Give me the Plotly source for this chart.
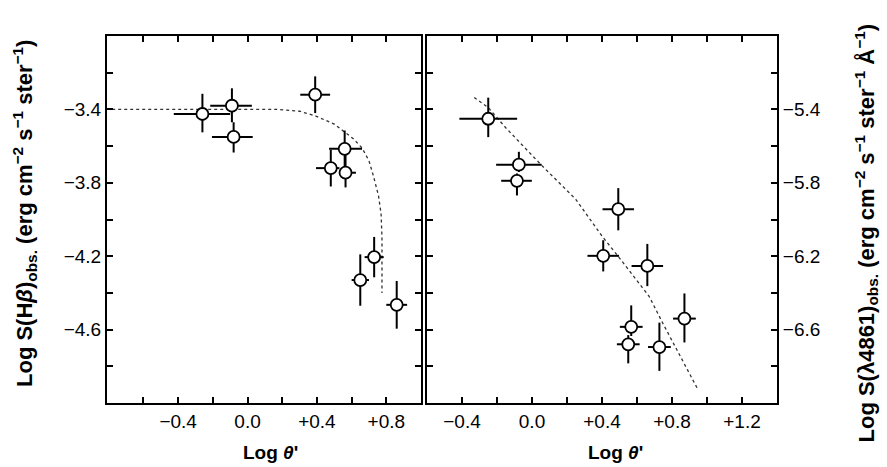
import plotly.graph_objects as go

# ---------------- data: left panel, Log S(Hbeta) vs Log theta' ----------------
hb_x = [-0.26, -0.09, -0.08, 0.39, 0.56, 0.48, 0.565, 0.73, 0.65, 0.86]
hb_y = [-3.425, -3.38, -3.55, -3.32, -3.615, -3.72, -3.745, -4.205, -4.33, -4.465]
hb_xerr_plus = [0.16, 0.115, 0.11, 0.086, 0.10, 0.05, 0.06, 0.055, 0.05, 0.06]
hb_xerr_minus = [0.165, 0.125, 0.125, 0.086, 0.09, 0.085, 0.035, 0.055, 0.05, 0.06]
hb_yerr_plus = [0.11, 0.095, 0.08, 0.10, 0.10, 0.10, 0.12, 0.11, 0.14, 0.13]
hb_yerr_minus = [0.10, 0.09, 0.085, 0.10, 0.10, 0.10, 0.08, 0.11, 0.14, 0.13]

hb_model_x = [-0.78, -0.4, 0.0, 0.17, 0.30, 0.39, 0.50, 0.61, 0.66, 0.70, 0.725, 0.755, 0.77, 0.775, 0.775]
hb_model_y = [-3.40, -3.40, -3.40, -3.40, -3.41, -3.435, -3.48, -3.56, -3.61, -3.68, -3.76, -3.87, -3.97, -4.10, -4.40]

# ---------------- data: right panel, Log S(lambda4861) vs Log theta' ----------------
l_x = [-0.25, -0.075, -0.086, 0.493, 0.407, 0.659, 0.567, 0.55, 0.728, 0.871]
l_y = [-5.451, -5.701, -5.789, -5.944, -6.198, -6.253, -6.585, -6.68, -6.695, -6.54]
l_xerr_plus = [0.165, 0.13, 0.085, 0.09, 0.09, 0.09, 0.065, 0.065, 0.065, 0.065]
l_xerr_minus = [0.165, 0.13, 0.09, 0.09, 0.09, 0.09, 0.065, 0.065, 0.065, 0.065]
l_yerr_plus = [0.115, 0.07, 0.04, 0.115, 0.085, 0.12, 0.117, 0.05, 0.133, 0.137]
l_yerr_minus = [0.10, 0.04, 0.08, 0.115, 0.085, 0.11, 0.05, 0.104, 0.13, 0.13]

l_model_x = [-0.33, -0.25, -0.15, 0.05, 0.25, 0.40, 0.50, 0.67, 0.75, 0.95]
l_model_y = [-5.335, -5.39, -5.50, -5.70, -5.89, -6.09, -6.21, -6.42, -6.57, -6.93]

# ---------------- ticks ----------------
left_xticks = [-0.6, -0.4, -0.2, 0.0, 0.2, 0.4, 0.6, 0.8]
left_xtext = ["", "\u22120.4", "", "0.0", "", "+0.4", "", "+0.8"]
left_yticks = [-4.8, -4.6, -4.4, -4.2, -4.0, -3.8, -3.6, -3.4, -3.2]
left_ytext = ["", "\u22124.6", "", "\u22124.2", "", "\u22123.8", "", "\u22123.4", ""]
right_xticks = [-0.4, -0.2, 0.0, 0.2, 0.4, 0.6, 0.8, 1.0, 1.2]
right_xtext = ["\u22120.4", "", "0.0", "", "+0.4", "", "+0.8", "", "+1.2"]
right_yticks = [-6.8, -6.6, -6.4, -6.2, -6.0, -5.8, -5.6, -5.4, -5.2]
right_ytext = ["", "\u22126.6", "", "\u22126.2", "", "\u22125.8", "", "\u22125.4", ""]

W, H = 887, 467
FONT = "Liberation Sans, Arial, Helvetica, sans-serif"

fig = go.Figure()

line_style = dict(color="#333333", width=1.3, dash="dot")
marker_style = dict(symbol="circle", size=12, color="white", line=dict(color="black", width=1.8))
err_style = dict(color="black", thickness=2, width=0)

fig.add_trace(go.Scatter(x=hb_model_x, y=hb_model_y, mode="lines", line=line_style,
                         xaxis="x", yaxis="y", showlegend=False, hoverinfo="skip"))
fig.add_trace(go.Scatter(
    x=hb_x, y=hb_y, mode="markers", marker=marker_style, xaxis="x", yaxis="y", showlegend=False,
    error_x=dict(type="data", symmetric=False, array=hb_xerr_plus, arrayminus=hb_xerr_minus, **err_style),
    error_y=dict(type="data", symmetric=False, array=hb_yerr_plus, arrayminus=hb_yerr_minus, **err_style)))

fig.add_trace(go.Scatter(x=l_model_x, y=l_model_y, mode="lines", line=line_style,
                         xaxis="x2", yaxis="y2", showlegend=False, hoverinfo="skip"))
fig.add_trace(go.Scatter(
    x=l_x, y=l_y, mode="markers", marker=marker_style, xaxis="x2", yaxis="y2", showlegend=False,
    error_x=dict(type="data", symmetric=False, array=l_xerr_plus, arrayminus=l_xerr_minus, **err_style),
    error_y=dict(type="data", symmetric=False, array=l_yerr_plus, arrayminus=l_yerr_minus, **err_style)))

axis_common = dict(showline=True, linewidth=2, linecolor="black", mirror="ticks",
                   ticks="inside", ticklen=6, tickwidth=1.5, tickcolor="black",
                   showgrid=False, zeroline=False,
                   tickfont=dict(family=FONT, size=19, color="black"))

y_dom = [1 - 403 / H, 1 - 36 / H]

fig.update_layout(
    width=W, height=H,
    margin=dict(l=0, r=0, t=0, b=0),
    paper_bgcolor="white", plot_bgcolor="white",
    xaxis=dict(domain=[107 / W, 421 / W], range=[-0.81, 1.0], anchor="y",
               tickmode="array", tickvals=left_xticks, ticktext=left_xtext, **axis_common),
    yaxis=dict(domain=y_dom, range=[-5.0, -3.0], anchor="x",
               tickmode="array", tickvals=left_yticks, ticktext=left_ytext, **axis_common),
    xaxis2=dict(domain=[427 / W, 777 / W], range=[-0.6, 1.4], anchor="y2",
                tickmode="array", tickvals=right_xticks, ticktext=right_xtext, **axis_common),
    yaxis2=dict(domain=y_dom, range=[-7.0, -5.0], anchor="x2", side="right",
                tickmode="array", tickvals=right_yticks, ticktext=right_ytext, **axis_common),
)

title_font = dict(family=FONT, size=19, color="black")
ytitle_font = dict(family=FONT, size=22, color="black")
annotations = [
    dict(text="<b>Log <i>\u03b8</i>'</b>", x=270 / W, y=1 - 452 / H, xref="paper", yref="paper",
         xanchor="center", yanchor="middle", showarrow=False, font=title_font),
    dict(text="<b>Log <i>\u03b8</i>'</b>", x=615 / W, y=1 - 452 / H, xref="paper", yref="paper",
         xanchor="center", yanchor="middle", showarrow=False, font=title_font),
    dict(text="<b>Log S(H<i>\u03b2</i>)<sub>obs.</sub> (erg cm<sup>\u22122</sup> s<sup>\u22121</sup> ster<sup>\u22121</sup>)</b>",
         x=24 / W, y=1 - 214 / H, xref="paper", yref="paper", textangle=-90,
         xanchor="center", yanchor="middle", showarrow=False, font=ytitle_font),
    dict(text="<b>Log S(\u03bb4861)<sub>obs.</sub> (erg cm<sup>\u22122</sup> s<sup>\u22121</sup> ster<sup>\u22121</sup> \u00c5<sup>\u22121</sup>)</b>",
         x=866 / W, y=1 - 445 / H, xref="paper", yref="paper", textangle=-90,
         xanchor="center", yanchor="bottom", showarrow=False, font=ytitle_font),
]
fig.update_layout(annotations=annotations)

fig.write_html("out.html")
